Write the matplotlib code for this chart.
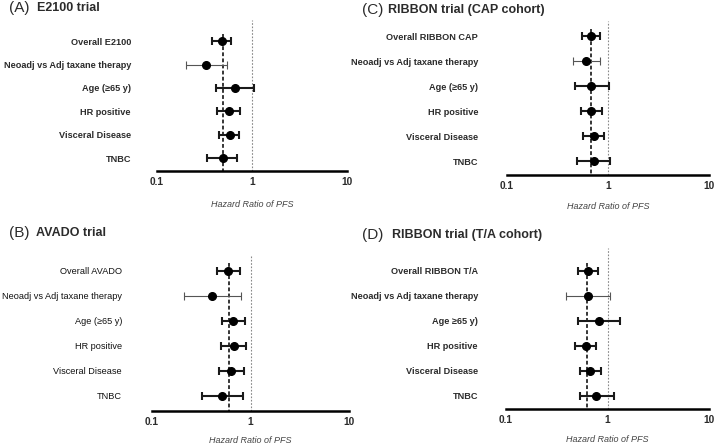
#!/usr/bin/env python3

import matplotlib
matplotlib.use("Agg")
import matplotlib.pyplot as plt

plt.rcParams['font.family'] = ['Liberation Sans', 'DejaVu Sans']

W, H = 717, 445

# hazard ratios (point, lower, upper)
labelsA = ["Overall E2100", "Neoadj vs Adj taxane therapy", "Age (\u226565 y)",
           "HR positive", "Visceral Disease", "TNBC"]
hrA = [0.48, 0.33, 0.67, 0.57, 0.58, 0.49]
loA = [0.38, 0.20, 0.42, 0.43, 0.45, 0.34]
hiA = [0.60, 0.54, 1.06, 0.75, 0.73, 0.69]
pooledA = 0.49

labelsB = ["Overall AVADO", "Neoadj vs Adj taxane therapy", "Age (\u226565 y)",
           "HR positive", "Visceral Disease", "TNBC"]
hrB = [0.59, 0.41, 0.66, 0.68, 0.64, 0.51]
loB = [0.46, 0.21, 0.51, 0.50, 0.48, 0.32]
hiB = [0.78, 0.80, 0.88, 0.89, 0.85, 0.83]
pooledB = 0.61

labelsC = ["Overall RIBBON CAP", "Neoadj vs Adj taxane therapy", "Age (\u226565 y)",
           "HR positive", "Visceral Disease", "TNBC"]
hrC = [0.68, 0.61, 0.68, 0.68, 0.72, 0.72]
loC = [0.55, 0.45, 0.47, 0.54, 0.57, 0.49]
hiC = [0.83, 0.84, 1.02, 0.87, 0.91, 1.05]
pooledC = 0.68

labelsD = ["Overall RIBBON T/A", "Neoadj vs Adj taxane therapy", "Age \u226565 y)",
           "HR positive", "Visceral Disease", "TNBC"]
hrD = [0.64, 0.64, 0.82, 0.61, 0.67, 0.77]
loD = [0.51, 0.39, 0.51, 0.48, 0.53, 0.53]
hiD = [0.80, 1.06, 1.34, 0.77, 0.86, 1.15]
pooledD = 0.63

TXT = "#2b2b2b"


def addPanel(fig, box, labelRight, xlabPad, weight, letter, title, titlePos,
             labels, hr, lo, hi, pooled):
    # box: left, right, top, bottom in pixels, then the row range shown
    x0, x1, top, bottom, rowTop, rowBottom = box
    ax = fig.add_axes([x0 / W, 1 - bottom / H, (x1 - x0) / W, (bottom - top) / H])
    ax.set_xscale("log")
    ax.set_xlim(0.1, 10)
    ax.set_ylim(rowBottom, rowTop)

    ax.axvline(1, color="#888888", lw=0.8, ls=(0, (1.5, 1.5)), zorder=1)
    ax.vlines(pooled, -0.3, rowBottom, color="black", lw=1.1, ls=(0, (2.5, 1.5)), zorder=1)

    for i in range(len(labels)):
        thin = labels[i].startswith("Neoadj")
        ax.errorbar(hr[i], i, xerr=[[hr[i] - lo[i]], [hi[i] - hr[i]]], fmt="o",
                    color="black", ecolor="#555555" if thin else "#1a1a1a",
                    elinewidth=0.8 if thin else 1.5, capsize=3,
                    capthick=0.8 if thin else 1.5, ms=5.5, zorder=3)

    ax.set_yticks(range(len(labels)))
    if weight == "bold":
        ax.set_yticklabels(labels, fontsize=6.6, fontweight="bold", color=TXT)
    else:
        ax.set_yticklabels(labels, fontsize=6.6, color="#111111")
    ax.set_xticks([0.1, 1, 10])
    ax.set_xticklabels(["0.1", "1", "10"], fontsize=7.3, fontweight="bold", color=TXT)
    ax.minorticks_off()
    ax.tick_params(axis="y", length=0, pad=(x0 - labelRight) * 0.72)
    ax.tick_params(axis="x", length=0, pad=4.5)
    for s in ["top", "right", "left"]:
        ax.spines[s].set_visible(False)
    ax.spines["bottom"].set_linewidth(1.8)
    ax.set_xlabel("Hazard Ratio of PFS", fontsize=6.5, style="italic", color="#444444",
                  labelpad=xlabPad)

    lx, tx, ty = titlePos
    fig.text(lx / W, 1 - ty / H, letter, fontsize=11, color=TXT, va="center")
    fig.text(tx / W, 1 - ty / H, title, fontsize=9, fontweight="bold", color=TXT,
             va="center")
    return ax


if __name__ == '__main__':
    fig = plt.figure(figsize=(W / 100, H / 100), dpi=100)

    addPanel(fig, (157, 347, 20, 171, -0.9, 5.54), 131, 9.5, "bold", "(A)", "E2100 trial",
             (9, 37, 8), labelsA, hrA, loA, hiA, pooledA)
    addPanel(fig, (152, 349, 255, 411, -0.63, 5.6), 122, 6, "normal", "(B)", "AVADO trial",
             (9, 36, 233), labelsB, hrB, loB, hiB, pooledB)
    addPanel(fig, (507, 709, 21, 175, -0.6, 5.54), 478, 7.5, "bold", "(C)",
             "RIBBON trial (CAP cohort)", (362, 388, 10), labelsC, hrC, loC, hiC, pooledC)
    addPanel(fig, (506, 709, 248, 409, -0.92, 5.53), 478, 7, "bold", "(D)",
             "RIBBON trial (T/A cohort)", (362, 392, 235), labelsD, hrD, loD, hiD, pooledD)

    plt.savefig("out.png", dpi=100)
